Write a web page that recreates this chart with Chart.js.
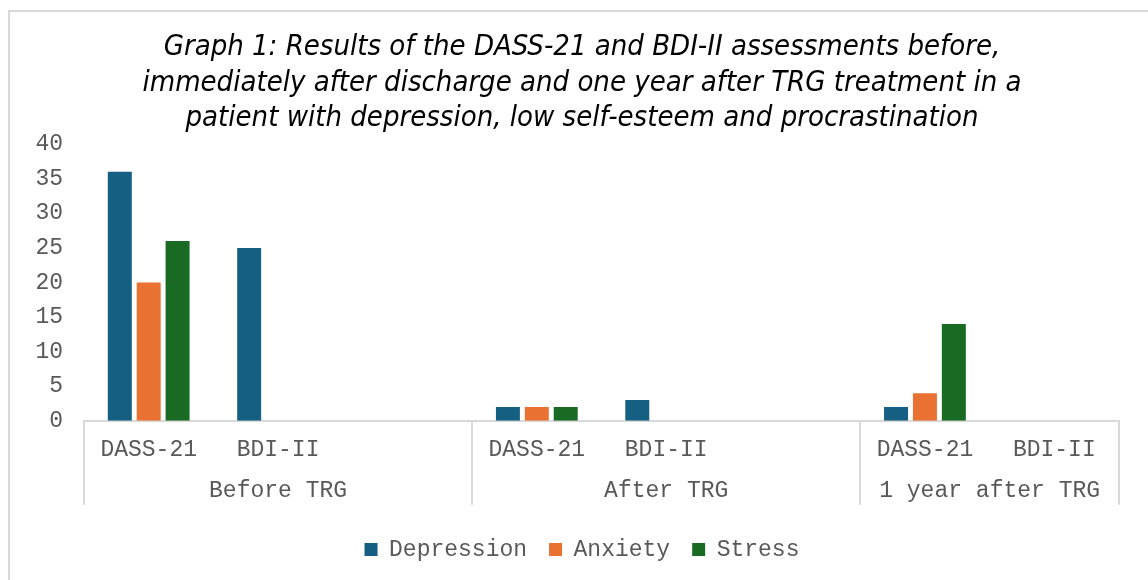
<!DOCTYPE html>
<html>
<head>
<meta charset="utf-8">
<script src="https://cdn.jsdelivr.net/npm/chart.js@4.4.1/dist/chart.umd.min.js"></script>
<style>
  body { margin: 0; background: #fff; }
  #wrap { position: relative; width: 1148px; height: 580px; overflow: hidden; }
  #frame { position: absolute; left: 8px; top: 10px; width: 1200px; height: 620px; border: 2px solid #d9d9d9; }
  canvas { position: absolute; left: 0; top: 0; }
</style>
</head>
<body>
<div id="wrap">
  <div id="frame"></div>
  <canvas id="myChart" width="1148" height="580"></canvas>
</div>
<script>
// categories (third slot of each group is blank, as in the sheet)
const labels = ['DASS-21', 'BDI-II', '', 'DASS-21', 'BDI-II', '', 'DASS-21', 'BDI-II'];
const groups = ['Before TRG', 'After TRG', '1 year after TRG'];
const groupBounds = [0, 3, 6, 8];

const depression = [36, 25, null, 2, 3, null, 2, null];
const anxiety = [20, null, null, 2, null, null, 4, null];
const stress = [26, null, null, 2, null, null, 14, null];

const yTicks = [0, 5, 10, 15, 20, 25, 30, 35, 40];

const groupCenters = groups.map((g, i) => (groupBounds[i] + groupBounds[i + 1]) / 2);

const mono = "'Liberation Mono', 'DejaVu Sans Mono', monospace";
const textColor = '#595959';
const lineColor = '#d9d9d9';

// separators between the groups, below the axis line
const groupLines = {
    id: 'groupLines',
    afterDraw(chart) {
        const grp = chart.scales.grp;
        const x = chart.scales.x;
        const ctx = chart.ctx;
        ctx.save();
        ctx.strokeStyle = lineColor;
        ctx.lineWidth = 2;
        for (let i = 0; i < groupBounds.length; i++) {
            const px = Math.round(grp.getPixelForValue(groupBounds[i]));
            ctx.beginPath();
            ctx.moveTo(px, x.top);
            ctx.lineTo(px, x.top + 84);
            ctx.stroke();
        }
        ctx.restore();
    }
};

const ctx = document.getElementById('myChart').getContext('2d');
const chart = new Chart(ctx, {
    type: 'bar',
    data: {
        labels: labels,
        datasets: [
            { label: 'Depression', data: depression, backgroundColor: '#156082' },
            { label: 'Anxiety', data: anxiety, backgroundColor: '#E97132' },
            { label: 'Stress', data: stress, backgroundColor: '#196B24' }
        ]
    },
    options: {
        responsive: false,
        animation: false,
        categoryPercentage: 0.67,
        barPercentage: 0.83,
        layout: { padding: { left: 16, right: 0, top: 0, bottom: 9 } },
        plugins: {
            tooltip: { enabled: false },
            title: {
                display: true,
                text: [
                    'Graph 1: Results of the DASS-21 and BDI-II assessments before,',
                    'immediately after discharge and one year after TRG treatment in a',
                    'patient with depression, low self-esteem and procrastination'
                ],
                color: '#000',
                font: { family: "'Liberation Sans Narrow', 'DejaVu Sans Condensed', 'Liberation Sans', sans-serif", size: 29, style: 'italic', weight: 'normal', lineHeight: 1.22 },
                padding: { top: 30, bottom: 8 }
            },
            legend: {
                position: 'bottom',
                labels: {
                    color: textColor,
                    font: { family: mono, size: 23 },
                    boxWidth: 13,
                    boxHeight: 13,
                    padding: 22
                }
            }
        },
        scales: {
            x: {
                grid: { display: false },
                border: { display: true, color: lineColor, width: 2 },
                ticks: {
                    color: textColor,
                    font: { family: mono, size: 23 },
                    maxRotation: 0,
                    autoSkip: false,
                    padding: 7
                }
            },
            y: {
                min: 0,
                max: 40,
                afterFit(scale) { scale.width = 68; },
                afterBuildTicks(scale) { scale.ticks = yTicks.map(v => ({ value: v })); },
                grid: { display: false, drawTicks: false },
                border: { display: false },
                ticks: {
                    color: textColor,
                    font: { family: mono, size: 23 },
                    padding: 21
                }
            },
            // empty right margin, keeps title and legend centred like the sheet
            y2: {
                type: 'linear',
                position: 'right',
                afterFit(scale) { scale.width = 29; },
                grid: { display: false, drawTicks: false },
                border: { display: false },
                ticks: { display: false }
            },
            grp: {
                type: 'linear',
                position: 'bottom',
                offset: false,
                min: groupBounds[0],
                max: groupBounds[groupBounds.length - 1],
                afterBuildTicks(scale) { scale.ticks = groupCenters.map(v => ({ value: v })); },
                afterFit(scale) { scale.height += 4; },
                grid: { display: false, drawTicks: false },
                border: { display: false },
                ticks: {
                    color: textColor,
                    font: { family: mono, size: 23 },
                    maxRotation: 0,
                    autoSkip: false,
                    padding: 7,
                    callback: (v) => groups[groupCenters.indexOf(v)]
                }
            }
        }
    },
    plugins: [groupLines]
});
</script>
</body>
</html>
